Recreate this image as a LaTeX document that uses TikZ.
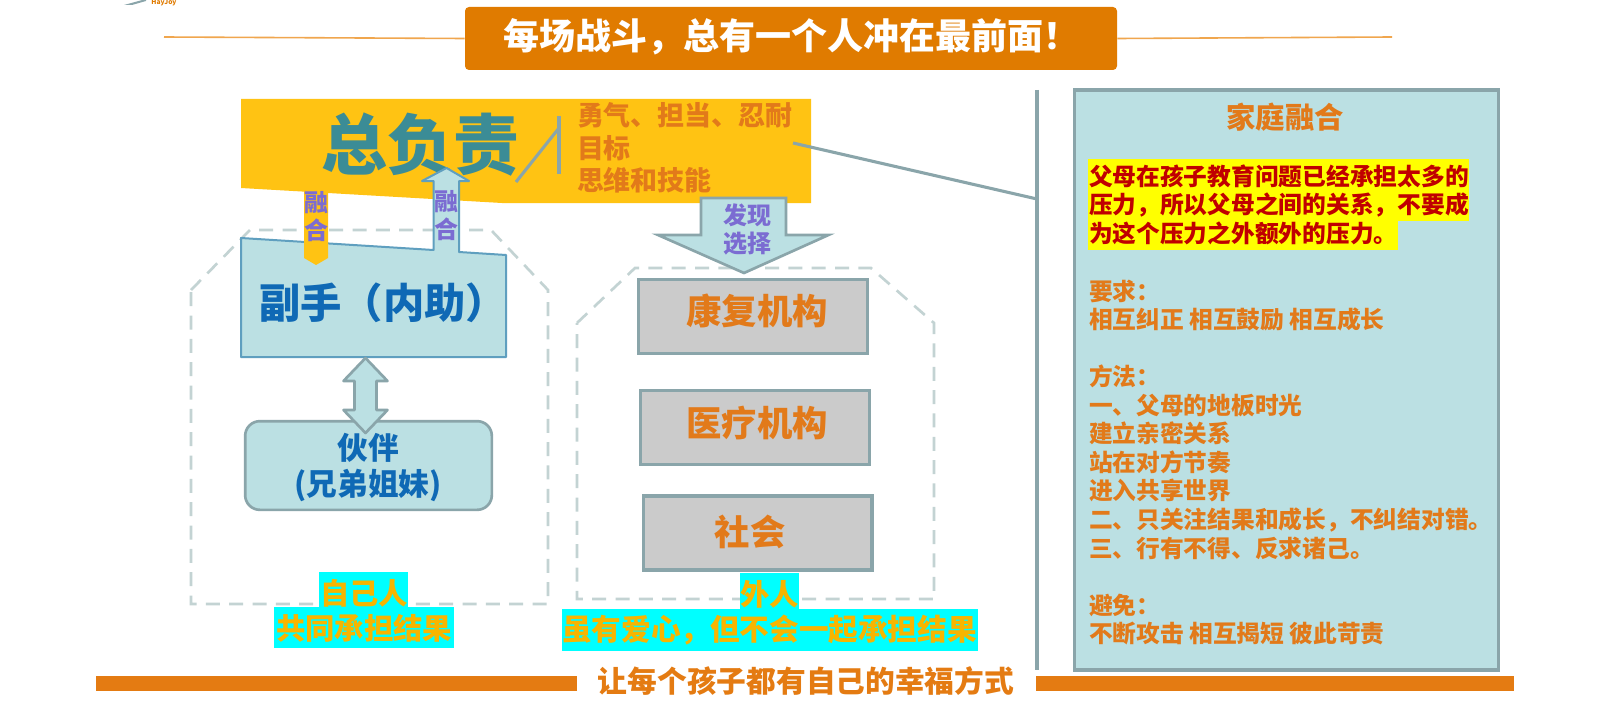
\documentclass[tikz,border=0pt]{standalone}
\usepackage{fontspec}
\setmainfont{Noto Sans CJK SC}
\definecolor{titleor}{HTML}{E07B00}
\definecolor{lineor}{HTML}{F0A64E}
\definecolor{baror}{HTML}{E47B12}
\definecolor{txtor}{HTML}{E27A1A}
\definecolor{goldy}{HTML}{FFC313}
\definecolor{pale}{HTML}{BBE0E3}
\definecolor{edge}{HTML}{8AA5AA}
\definecolor{blueedge}{HTML}{5F9FBF}
\definecolor{dashc}{HTML}{C3D3D3}
\definecolor{graybox}{HTML}{CBCBCB}
\definecolor{blu}{HTML}{0F69B5}
\definecolor{teal2}{HTML}{3B8C96}
\definecolor{purp}{HTML}{7B6CD2}
\definecolor{amber}{HTML}{F7B500}
\definecolor{cy}{HTML}{00FFFF}
\definecolor{hiyel}{HTML}{FFFF00}
\definecolor{dred}{HTML}{C00000}
\tikzset{
  x=0.75pt,y=-0.75pt,
  txt/.style 2 args={inner sep=0pt,outer sep=0pt,font=\bfseries\fontsize{#1}{#2}\selectfont},
  grayrect/.style={draw=edge,line width=2.3pt,fill=graybox,minimum width=171.7pt,minimum height=55.5pt,inner sep=0pt},
  palefill/.style={draw=edge,line width=2pt,fill=pale},
  dashbox/.style={draw=dashc,line width=2pt,dash pattern=on 10.5pt off 7pt},
  link/.style={draw=edge,line width=2.3pt},
}
\begin{document}
\begin{tikzpicture}
\useasboundingbox (0,0) rectangle (1610,710);
\fill[white] (0,0) rectangle (1610,710);
% logo remnant
\begin{scope}
\clip (0,0) rectangle (1610,710);
\fill[edge] (124,5) -- (146,-1) -- (146,1) -- (132,5) -- cycle;
\node[txt={5}{5},text=titleor] (logo) at (164,3.2) {HayJoy};
\end{scope}
% header
\coordinate (hl) at (164,37); \coordinate (hr) at (1392,37);
\node[fill=titleor,rounded corners=3pt,minimum width=489pt,minimum height=47.25pt,inner sep=0pt] (title) at (791,38.5) {};
\draw[lineor,line width=1.2pt] (hl) -- (title.west);
\draw[lineor,line width=1.2pt] (title.east) -- (hr);
\node[txt={27}{27},anchor=west,text=white] (titletxt) at (503,37) {每场战斗，总有一个人冲在最前面！};
% dashed frames
\draw[dashbox] (191,290) -- (250,230) -- (491,230) -- (548,290) -- (548,604) -- (191,604) -- cycle;
\draw[dashbox] (577,323) -- (635,268) -- (871,268) -- (934,323) -- (934,599) -- (577,599) -- cycle;
% yellow
\fill[goldy] (241,99) -- (811,99) -- (811,203) -- (502,203) -- (241,188) -- cycle;
\node[txt={49.5}{49.5},text=teal2] (chief) at (420,145) {总负责};
\coordinate (brT) at (559,116); \coordinate (brB) at (559,174);
\coordinate (brM) at (559,128); \coordinate (brD) at (516,182);
\draw[link] (brT) -- (brB);
\draw[link] (brM) -- (brD);
\node[txt={20.2}{24.4},text=txtor,anchor=north west,align=left] (traits) at (577,102.5) {勇气、担当、忍耐\\目标\\思维和技能};
% deputy box with upward arrow
\draw[fill=pale,draw=blueedge,line width=1.5pt,line join=round] (241,238) -- (433.5,250) -- (433.5,181) -- (422,181) -- (446.5,168) -- (469,181) -- (459,181) -- (459,252) -- (506,255) -- (506,357) -- (241,357) -- cycle;
\fill[goldy] (304,190) -- (328,190) -- (328,258) -- (316,265) -- (304,258) -- cycle;
\node[txt={18}{21},text=purp,align=center] (fuse1) at (316,217) {融\\合};
\node[txt={18}{21},text=purp,align=center] (fuse2) at (446,216) {融\\合};
\node[txt={31}{31},text=blu] (deputy) at (383,303) {副手（内助）};
% partner
\node[palefill,rounded corners=11pt,minimum width=185pt,minimum height=66.5pt,inner sep=0pt] (partner) at (368.5,465.5) {};
\draw[palefill,line join=round] (365.5,358) -- (387.5,381) -- (376.5,381) -- (376.5,410) -- (387.5,410) -- (365.5,433) -- (343.5,410) -- (354.5,410) -- (354.5,381) -- (343.5,381) -- cycle;
\node[txt={23}{27},text=blu,align=center] (partnertxt) at (368,467) {伙伴\\(兄弟姐妹)};
% gray boxes
\node[grayrect] (b1) at (753,316.5) {};
\node[grayrect] (b2) at (755.25,427.5) {};
\node[grayrect] (b3) at (757.5,533) {};
\node[txt={26.5}{26.5},text=txtor] (t1) at (757,311) {康复机构};
\node[txt={26.5}{26.5},text=txtor] (t2) at (757,423) {医疗机构};
\node[txt={26.5}{26.5},text=txtor] (t3) at (750,532) {社会};
% discover arrow
\draw[palefill,line join=miter] (701,198) -- (786,198) -- (786,235) -- (828.5,235) -- (744,273) -- (658,235) -- (701,235) -- cycle;
\node[txt={18}{21},text=purp,align=center] (disc) at (747,229) {发现\\选择};
% labels
\fill[cy] (319,572) rectangle (408,607);
\fill[cy] (274,607) rectangle (453.5,648);
\fill[cy] (740,573) rectangle (799,609);
\fill[cy] (561.5,609) rectangle (977.5,651);
\node[txt={22}{22},text=amber] (l1) at (364,593) {自己人};
\node[txt={22}{22},text=amber] (l2) at (364,628) {共同承担结果};
\node[txt={22}{22},text=amber] (l3) at (769.5,594) {外人};
\node[txt={22.2}{22.2},text=amber] (l4) at (769.5,630) {虽有爱心，但不会一起承担结果};
% bottom bars
\fill[baror] (96,676) rectangle (577,691);
\fill[baror] (1036,676) rectangle (1514,691);
\node[txt={22.3}{22.3},text=baror] (slogan) at (806,681) {让每个孩子都有自己的幸福方式};
% side
\coordinate (vT) at (1037,90); \coordinate (vB) at (1037,670);
\coordinate (cS) at (793,143); \coordinate (cE) at (1037,199);
\draw[link] (vT) -- (vB);
\draw[link] (cS) -- (cE);
\node[draw=edge,line width=2.3pt,fill=pale,minimum width=318pt,minimum height=435pt,inner sep=0pt] (panel) at (1286.5,380) {};
\node[txt={22}{22},text=txtor] (ptitle) at (1285,117) {家庭融合};
\fill[hiyel] (1088,159) rectangle (1469,221);
\fill[hiyel] (1088,221) rectangle (1398,249.6);
\node[txt={17.8}{21.4},text=dred,anchor=north west,align=left] (phl) at (1089,164.5) {父母在孩子教育问题已经承担太多的\\压力，所以父母之间的关系，不要成\\为这个压力之外额外的压力。};
\node[txt={17.8}{21.4},text=txtor,anchor=north west,align=left] (pbody) at (1089,279.8) {要求：\\相互纠正 相互鼓励 相互成长\\[21.4pt]方法：\\一、父母的地板时光\\建立亲密关系\\站在对方节奏\\进入共享世界\\二、只关注结果和成长，不纠结对错。\\三、行有不得、反求诸己。\\[21.4pt]避免：\\不断攻击 相互揭短 彼此苛责};
\end{tikzpicture}
\end{document}
